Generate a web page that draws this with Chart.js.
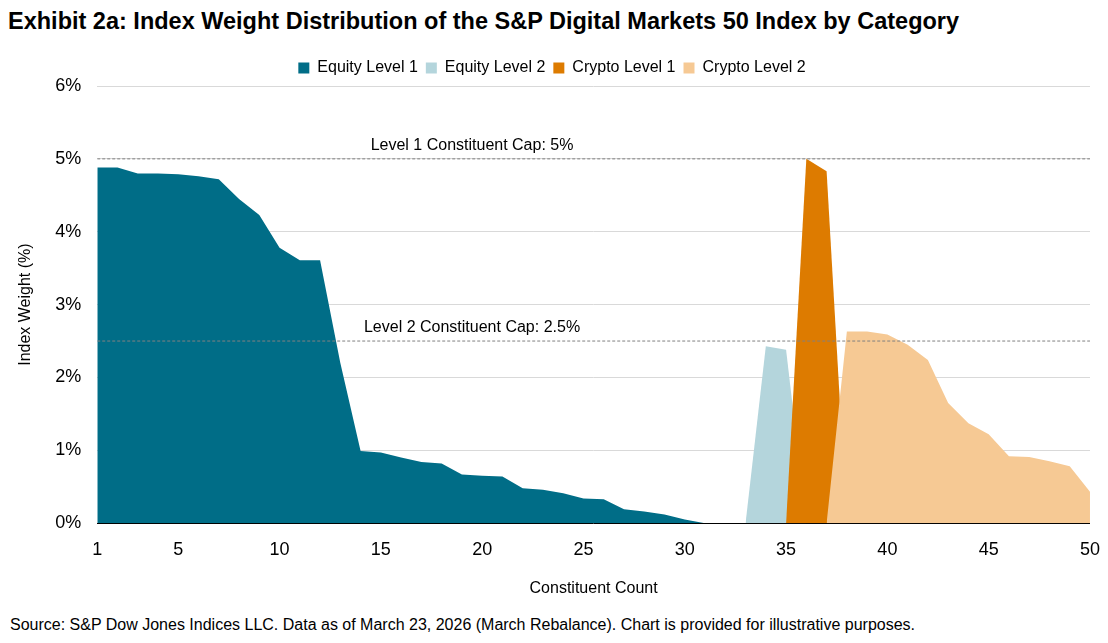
<!DOCTYPE html>
<html>
<head>
<meta charset="utf-8">
<script src="https://cdn.jsdelivr.net/npm/chart.js@4/dist/chart.umd.min.js"></script>
<style>
  body { margin: 0; background: #fff; font-family: "Liberation Sans", Arial, sans-serif; }
  #title { position: absolute; left: 8px; top: 8px; font-size: 23.5px; font-weight: bold; color: #000; }
  #wrap { position: absolute; left: 0; top: 52px; width: 1108px; height: 550px; }
  #source { position: absolute; left: 10px; top: 616px; font-size: 16px; color: #000; }
</style>
</head>
<body>
<div id="title">Exhibit 2a: Index Weight Distribution of the S&amp;P Digital Markets 50 Index by Category</div>
<div id="wrap"><canvas id="chart"></canvas></div>
<div id="source">Source: S&amp;P Dow Jones Indices LLC. Data as of March 23, 2026 (March Rebalance). Chart is provided for illustrative purposes.</div>
<script>
const equityL1X = [1,2,3,4,5,6,7,8,9,10,11,12,13,14,15,16,17,18,19,20,21,22,23,24,25,26,27,28,29,30,31];
const equityL1 = [4.88,4.88,4.80,4.80,4.79,4.76,4.72,4.45,4.23,3.78,3.61,3.61,2.20,0.99,0.97,0.90,0.84,0.82,0.67,0.65,0.64,0.48,0.46,0.41,0.34,0.33,0.19,0.16,0.12,0.05,0];
const equityL2X = [33,34,35,36];
const equityL2 = [0,2.43,2.38,0];
const cryptoL1X = [35,36,37,38];
const cryptoL1 = [0,5.0,4.83,0];
const cryptoL2X = [37,38,39,40,41,42,43,44,45,46,47,48,49,50];
const cryptoL2 = [0,2.63,2.63,2.59,2.45,2.24,1.65,1.37,1.22,0.92,0.91,0.85,0.78,0.43];
const xTicks = [1,5,10,15,20,25,30,35,40,45,50];
const caps = [5, 2.5];
const capLabels = ["Level 1 Constituent Cap: 5%", "Level 2 Constituent Cap: 2.5%"];

const pts = (xs, ys) => xs.map((x, i) => ({ x, y: ys[i] }));
const area = (label, xs, ys, color, order) => ({
  label, data: pts(xs, ys), backgroundColor: color, borderColor: color,
  borderWidth: 0, pointRadius: 0, fill: "origin", tension: 0, order,
});

const capLine = (v) => ({
  label: "cap", data: [{ x: 1, y: v }, { x: 50, y: v }], borderColor: "#808080",
  borderWidth: 1, borderDash: [3, 2], pointRadius: 0, fill: false, order: -1,
});

const capText = {
  id: "capText",
  afterDatasetsDraw(chart) {
    const { ctx, scales } = chart;
    ctx.save();
    ctx.font = '16px "Liberation Sans", Arial';
    ctx.fillStyle = "#000";
    ctx.textAlign = "center";
    ctx.textBaseline = "bottom";
    caps.forEach((v, i) => {
      ctx.fillText(capLabels[i], scales.x.getPixelForValue(19.5), scales.y.getPixelForValue(v) - 5);
    });
    ctx.restore();
  },
};

new Chart(document.getElementById("chart"), {
  type: "line",
  data: {
    datasets: [
      area("Equity Level 1", equityL1X, equityL1, "#006d87", 3),
      area("Equity Level 2", equityL2X, equityL2, "#b4d5dc", 2),
      area("Crypto Level 1", cryptoL1X, cryptoL1, "#dd7b00", 1),
      area("Crypto Level 2", cryptoL2X, cryptoL2, "#f6c994", 0),
      capLine(caps[0]),
      capLine(caps[1]),
    ],
  },
  options: {
    responsive: true, maintainAspectRatio: false, animation: false,
    layout: { padding: { left: 12, right: 16 } },
    plugins: {
      tooltip: { enabled: false },
      legend: {
        position: "top",
        labels: {
          filter: (item) => item.text !== "cap",
          sort: (a, b) => a.datasetIndex - b.datasetIndex,
          boxWidth: 11, boxHeight: 11, padding: 8,
          color: "#000", font: { size: 16, family: "Liberation Sans" },
        },
      },
    },
    scales: {
      x: {
        type: "linear", min: 1, max: 50,
        afterBuildTicks: (axis) => { axis.ticks = xTicks.map((v) => ({ value: v })); },
        grid: { display: false },
        border: { color: "#000" },
        ticks: { color: "#000", padding: 8, font: { size: 18, family: "Liberation Sans" }, maxRotation: 0 },
        title: { display: true, text: "Constituent Count", color: "#000", padding: { top: 10 }, font: { size: 16, family: "Liberation Sans" } },
      },
      y: {
        min: 0, max: 6,
        grid: { color: "#d9d9d9", drawTicks: false },
        border: { display: false },
        ticks: { stepSize: 1, padding: 16, color: "#000", callback: (v) => v + "%", font: { size: 18, family: "Liberation Sans" } },
        title: { display: true, text: "Index Weight (%)", color: "#000", font: { size: 16, family: "Liberation Sans" } },
      },
    },
  },
  plugins: [capText],
});
</script>
</body>
</html>
